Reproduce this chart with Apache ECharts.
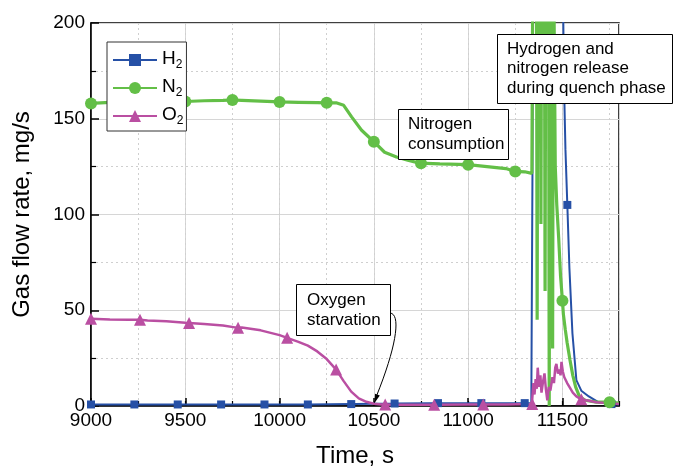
<!DOCTYPE html>
<html lang="en">
<head>
<meta charset="UTF-8" />
<title>Gas flow rate</title>
<style>
  html, body { margin: 0; padding: 0; background: #fff; }
  #main { width: 673px; height: 467px; }
</style>
</head>
<body>
<div id="main"></div>
<script src="https://cdn.jsdelivr.net/npm/echarts@6/dist/echarts.min.js"></script>
<script type="text/javascript">
var fontFamily = 'Liberation Sans, Arial, sans-serif';

// x axis tick labels
var xTicks = [9000, 9500, 10000, 10500, 11000, 11500];

// H2 trace (time, mg/s)
var h2Time = [9000, 9500, 10000, 10400, 10500, 10800, 11100, 11335, 11341, 11345, 11428, 11432, 11436, 11498,
              11508, 11516, 11537, 11553, 11574, 11600, 11640, 11690, 11750, 11800];
var h2Rate = [0.8, 0.8, 0.8, 1.0, 1.2, 1.5, 1.5, 1.5, 120, 260, 260, 40, 260, 260,
              170, 134, 72, 38, 13.5, 8, 5, 2, 1, 0.8];
// H2 square markers
var h2MarkTime = [9000, 9230, 9460, 9690, 9920, 10150, 10380, 10610, 10840, 11070, 11300, 11526, 11760];
var h2MarkRate = [0.8, 0.8, 0.8, 0.8, 0.8, 0.8, 1.0, 1.3, 1.5, 1.5, 1.5, 105, 1];

// N2 trace
var n2Time = [9000, 9100, 9200, 9300, 9400, 9500, 9600, 9700, 9800, 9900, 10000, 10100, 10200, 10300, 10340,
              10382, 10435, 10500, 10557, 10620, 10680, 10743, 10850, 11000, 11100, 11200, 11300, 11338,
              11341, 11344, 11362, 11366, 11370, 11382, 11386, 11390, 11404, 11408, 11412,
              11426, 11430, 11434, 11444, 11448, 11452, 11458, 11462, 11470, 11480, 11490,
              11505, 11515, 11525, 11540, 11555, 11570, 11590, 11620, 11680, 11800];
var n2Rate = [158, 158.5, 158.8, 159, 159.3, 159, 159.4, 159.6, 159.6, 159.2, 158.8, 158.6, 158.4, 158.3, 157,
              151, 144, 138, 132.5, 130, 128.3, 126.8, 126.4, 126, 125, 124, 122.3, 121.5,
              121.5, 250, 250, 45, 250, 250, 95, 250, 250, 60, 250,
              250, 0, 250, 250, 30, 250, 250, 125, 105, 88, 68,
              48, 40, 33, 24, 16, 10, 5, 3, 2, 1.5];
// N2 circle markers
var n2MarkTime = [9000, 9250, 9500, 9750, 10000, 10250, 10500, 10750, 11000, 11250, 11500, 11750];
var n2MarkRate = [158, 158.8, 159, 159.8, 158.8, 158.3, 138, 126.8, 126, 122.5, 55, 2];

// O2 trace
var o2Time = [9000, 9100, 9200, 9300, 9400, 9500, 9600, 9700, 9800, 9900, 10000, 10050, 10100, 10150, 10200,
              10250, 10300, 10340, 10380, 10420, 10460, 10500, 10540, 10600, 10800, 11000, 11200, 11338,
              11346, 11352, 11358, 11364, 11369, 11376, 11383, 11389, 11396, 11405, 11412, 11420, 11428, 11436,
              11447, 11455, 11462, 11468, 11476, 11484, 11490, 11495, 11502, 11510, 11525, 11537, 11555, 11574,
              11627, 11680, 11740, 11800];
var o2Rate = [45.5, 45.2, 45, 44.7, 44.2, 43.5, 42.8, 42, 41, 39.5, 37, 35.3, 33.5, 31.5, 28.5,
              24.5, 19, 13, 7.5, 4, 2.2, 1.2, 0.8, 0.7, 0.7, 0.8, 0.8, 1,
              12, 6, 14, 9, 20, 10, 16, 7, 12, 17, 9, 3, 10, 8,
              15, 12, 20, 22, 17, 19, 16, 23, 18, 15, 12, 10, 7, 5,
              3, 2, 1.5, 1];
// O2 triangle markers
var o2MarkTime = [9000, 9260, 9520, 9780, 10040, 10300, 10560, 10820, 11080, 11340, 11600];
var o2MarkRate = [45.5, 45, 43.4, 40.8, 35.6, 19, 0.8, 0.7, 0.8, 1, 3.5];

var myChart = echarts.init(document.getElementById('main'));

function buildData(t, v, mt, mv) {
    var pts = [];
    for (var i = 0; i < t.length; i++) {
        pts.push({ value: [t[i], v[i]], symbol: 'none' });
    }
    for (var j = 0; j < mt.length; j++) {
        pts.push({ value: [mt[j], mv[j]] });
    }
    pts.sort(function (a, b) { return a.value[0] - b.value[0]; });
    return pts;
}

function subName(name) {
    return '{m|' + name.charAt(0) + '}{s|' + name.slice(1) + '}';
}

var blue = '#2650a6', green = '#63bf47', pink = '#ba4fa2';

var option = {
    animation: false,
    backgroundColor: '#fff',
    grid: {
        left: 91, right: 54, top: 23, bottom: 61,
        show: true, borderColor: '#000', borderWidth: 1.5,
        containLabel: false, outerBoundsMode: 'none'
    },
    legend: {
        orient: 'vertical', left: 107, top: 42,
        itemWidth: 44, itemHeight: 15, itemGap: 4,
        padding: [5, 3, 4, 5],
        backgroundColor: '#fff', borderColor: '#333', borderWidth: 1, borderRadius: 0,
        data: ['H2', 'N2', 'O2'],
        formatter: subName,
        textStyle: {
            rich: {
                m: { fontSize: 19, fontFamily: fontFamily, color: '#000', lineHeight: 22, verticalAlign: 'top' },
                s: { fontSize: 12, fontFamily: fontFamily, color: '#000', lineHeight: 12, verticalAlign: 'bottom', padding: [12, 0, 0, 0] }
            }
        }
    },
    xAxis: [{
        type: 'value', min: 9000, max: 11800, interval: 500, position: 'bottom',
        name: 'Time, s', nameLocation: 'middle', nameGap: 38,
        nameTextStyle: { fontSize: 24, fontFamily: fontFamily, color: '#000' },
        axisLine: { show: true, onZero: false, lineStyle: { color: '#000', width: 1.5 } },
        axisTick: { show: true, inside: true, length: 8, lineStyle: { color: '#000', width: 1.5 } },
        axisLabel: {
            fontSize: 19, fontFamily: fontFamily, color: '#000', margin: 5, showMaxLabel: false,
            formatter: function (v) { return xTicks.indexOf(v) >= 0 ? String(v) : ''; }
        },
        splitLine: { show: true, lineStyle: { color: '#d6d6d6', width: 1 } }
    }, {
        type: 'value', min: 9000, max: 11800, interval: 250, position: 'bottom',
        axisLine: { show: false },
        axisTick: { show: true, inside: true, length: 5, lineStyle: { color: '#000', width: 1.2 } },
        axisLabel: { show: false },
        splitLine: { show: true, lineStyle: { color: '#cfcfcf', width: 1, type: [2, 3] } }
    }],
    yAxis: {
        type: 'value', min: 0, max: 200, interval: 50,
        name: 'Gas flow rate, mg/s', nameLocation: 'middle', nameGap: 57, nameRotate: 90,
        nameTextStyle: { fontSize: 24, fontFamily: fontFamily, color: '#000' },
        axisLine: { show: true, lineStyle: { color: '#000', width: 1.5 } },
        axisTick: { show: true, inside: true, length: 8, lineStyle: { color: '#000', width: 1.5 } },
        minorTick: { show: true, splitNumber: 2, length: 5, lineStyle: { color: '#000', width: 1.2 } },
        axisLabel: { fontSize: 19, fontFamily: fontFamily, color: '#000', margin: 6 },
        splitLine: { show: true, lineStyle: { color: '#d6d6d6', width: 1 } },
        minorSplitLine: { show: true, lineStyle: { color: '#cfcfcf', width: 1, type: [2, 3] } }
    },
    series: [{
        name: 'H2', type: 'line', xAxisIndex: 0,
        data: buildData(h2Time, h2Rate, h2MarkTime, h2MarkRate),
        symbol: 'rect', symbolSize: 8, showAllSymbol: true,
        lineStyle: { width: 2, color: blue }, itemStyle: { color: blue }
    }, {
        name: 'N2', type: 'line', xAxisIndex: 0,
        data: buildData(n2Time, n2Rate, n2MarkTime, n2MarkRate),
        symbol: 'circle', symbolSize: 12, showAllSymbol: true,
        lineStyle: { width: 3.2, color: green }, itemStyle: { color: green }
    }, {
        name: 'O2', type: 'line', xAxisIndex: 0,
        data: buildData(o2Time, o2Rate, o2MarkTime, o2MarkRate),
        symbol: 'triangle', symbolSize: 12, showAllSymbol: true,
        lineStyle: { width: 2.5, color: pink }, itemStyle: { color: pink }
    }],
    graphic: [
        // Nitrogen consumption
        { type: 'rect', z: 100, shape: { x: 398.5, y: 109.5, width: 110, height: 50 },
          style: { fill: '#fff', stroke: '#000', lineWidth: 1 } },
        { type: 'text', z: 101, left: 408, top: 114,
          style: { text: 'Nitrogen\nconsumption', font: '17px ' + fontFamily, fill: '#000', lineHeight: 20 } },
        // Hydrogen and nitrogen release
        { type: 'rect', z: 100, shape: { x: 497.5, y: 34.5, width: 175, height: 69 },
          style: { fill: '#fff', stroke: '#000', lineWidth: 1 } },
        { type: 'text', z: 101, left: 507, top: 39.5,
          style: { text: 'Hydrogen and\nnitrogen release\nduring quench phase', font: '17px ' + fontFamily, fill: '#000', lineHeight: 19.5 } },
        // Oxygen starvation
        { type: 'rect', z: 100, shape: { x: 296.5, y: 284.5, width: 94, height: 51 },
          style: { fill: '#fff', stroke: '#000', lineWidth: 1 } },
        { type: 'text', z: 101, left: 307, top: 290,
          style: { text: 'Oxygen\nstarvation', font: '17px ' + fontFamily, fill: '#000', lineHeight: 20 } },
        { type: 'bezierCurve', z: 100,
          shape: { x1: 390, y1: 313, cpx1: 401, cpy1: 314, cpx2: 397, cpy2: 345, x2: 376.5, y2: 396 },
          style: { stroke: '#000', lineWidth: 1, fill: null } },
        { type: 'polygon', z: 100,
          shape: { points: [[374.5, 403], [379.8, 395.5], [375, 393.7]] },
          style: { fill: '#000' } }
    ]
};

myChart.setOption(option);
</script>
</body>
</html>
